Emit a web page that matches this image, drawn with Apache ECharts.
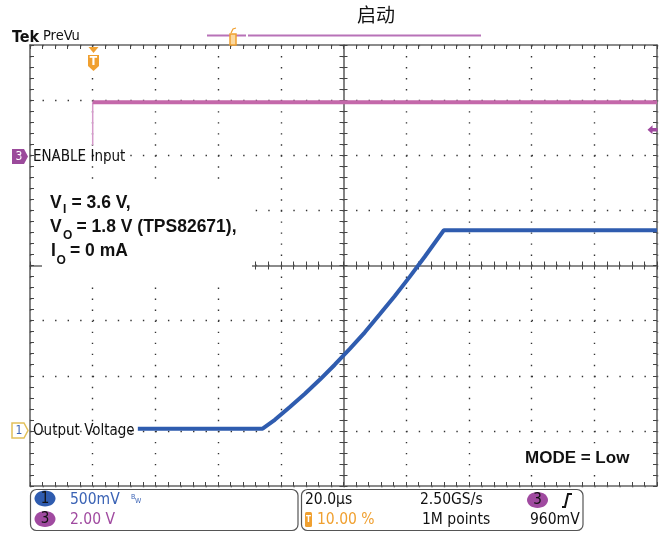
<!DOCTYPE html>
<html><head><meta charset="utf-8">
<script src="https://cdn.jsdelivr.net/npm/echarts@6/dist/echarts.min.js"></script>
<style>html,body{margin:0;padding:0;background:#fff}#c{width:663px;height:535px}</style>
</head><body><div id="c"></div>
<script>
// ---- scope settings ----
const timeMinUs = -20, timeMaxUs = 180, timePerDivUs = 20;   // 20.0 µs/div, trigger at 10 %
const ch1Min = -0.5, ch1Max = 3.5, ch1VoltsPerDiv = 0.5;     // CH1 500 mV/div
const ch3Min = -12, ch3Max = 4, ch3VoltsPerDiv = 2;          // CH3 2.00 V/div
const triggerLevelV = 0.96;

// ---- CH1: Output Voltage (µs, V) ----
const outputTimeUs   = [14.4, 54.2, 58.1, 62.8, 67.6, 72.4, 77.2, 82.0, 86.8, 91.5, 96.3, 101.1, 105.9, 112.0, 180];
const outputVoltageV = [0.02, 0.02, 0.10, 0.215, 0.335, 0.463, 0.60, 0.743, 0.894, 1.055, 1.221, 1.397, 1.579, 1.82, 1.82];

// ---- CH3: ENABLE Input (µs, V) ----
const enableTimeUs   = [0, 0, 180];
const enableVoltageV = [0.36, 1.92, 1.92];

const GRID = {left: 30, top: 45, width: 627, height: 441};
const dotV = GRID.height / 8 / 5;   // dot pitch on vertical graticule lines
const dotH = GRID.width / 10 / 5;   // dot pitch on horizontal graticule lines

const zip = (xs, ys) => xs.map((x, i) => [x, ys[i]]);

function gAxis(position, offset, extra) {
  const base = {
    gridIndex: 0, type: 'value', position: position, offset: offset,
    axisLine: {show: true, onZero: false, lineStyle: {color: '#666', width: 1.6}},
    axisTick: {show: true, inside: true, length: 4, lineStyle: {color: '#444', width: 1}},
    minorTick: {show: true, splitNumber: 5, length: 4, lineStyle: {color: '#444', width: 1}},
    axisLabel: {show: false}, splitLine: {show: false}, minorSplitLine: {show: false}
  };
  return Object.assign(base, extra);
}
const gx = (p, o, e) => gAxis(p, o, Object.assign({min: -5, max: 5, interval: 1}, e || {}));
const gy = (p, o, e) => gAxis(p, o, Object.assign({min: -4, max: 4, interval: 1}, e || {}));

const dots = (pitch) => ({show: true, lineStyle: {color: '#333', width: 1.4, type: [1.4, pitch - 1.4]}});
const outTick = {show: true, inside: false, length: 4, lineStyle: {color: '#444', width: 1}};

const F = '"DejaVu Sans Condensed","DejaVu Sans",sans-serif';
const A = '"Liberation Sans",Arial,sans-serif';
const txt = (x, y, text, font, fill, align, extra) => Object.assign({
  type: 'text', x: x, y: y, z: 60,
  style: {text: text, font: font, fill: fill || '#111', align: align || 'left', verticalAlign: 'middle'}
}, extra || {});

const chart = echarts.init(document.getElementById('c'));
chart.setOption({
  animation: false,
  backgroundColor: '#fff',
  grid: [
    Object.assign({}, GRID),
    Object.assign({}, GRID)
  ],
  xAxis: [
    gx('bottom', 0, {splitLine: dots(dotV)}),
    gx('top', 0),
    gx('bottom', -GRID.height / 2),
    gx('bottom', -GRID.height / 2, {axisLine: {show: false}, axisTick: outTick}),
    {gridIndex: 1, type: 'value', min: timeMinUs, max: timeMaxUs, interval: timePerDivUs, show: false}
  ],
  yAxis: [
    gy('left', 0, {splitLine: dots(dotH)}),
    gy('right', 0),
    gy('left', -GRID.width / 2),
    gy('left', -GRID.width / 2, {axisLine: {show: false}, axisTick: outTick}),
    {gridIndex: 1, type: 'value', min: ch1Min, max: ch1Max, interval: ch1VoltsPerDiv, show: false},
    {gridIndex: 1, type: 'value', min: ch3Min, max: ch3Max, interval: ch3VoltsPerDiv, show: false}
  ],
  series: [
    {
      name: 'ENABLE Input edge', type: 'line', xAxisIndex: 4, yAxisIndex: 5,
      data: zip(enableTimeUs, enableVoltageV).slice(0, 2), symbol: 'none',
      lineStyle: {color: '#d59acb', width: 1.5}, z: 3
    },
    {
      name: 'ENABLE Input', type: 'line', xAxisIndex: 4, yAxisIndex: 5,
      data: zip(enableTimeUs, enableVoltageV).slice(1), symbol: 'none',
      lineStyle: {color: '#c468aa', width: 4}, z: 3,
      markPoint: {
        symbol: 'path://M0,5 L6,0 L6,3 L12,3 L12,7 L6,7 L6,10 Z', symbolSize: [10, 9],
        symbolOffset: [-4.5, 1], itemStyle: {color: '#a04aa0'}, label: {show: false},
        data: [{coord: [timeMaxUs, triggerLevelV]}]
      }
    },
    {
      name: 'Output Voltage', type: 'line', xAxisIndex: 4, yAxisIndex: 4,
      data: zip(outputTimeUs, outputVoltageV), symbol: 'none',
      lineStyle: {color: '#2f5caf', width: 4}, z: 4
    }
  ],
  graphic: {elements: [
    // header
    txt(12, 38, 'Tek', 'bold 16px ' + F, '#111'),
    txt(43, 36, 'PreVu', '14.5px ' + F, '#111'),
    txt(376, 15, '启动', '19px "Noto Sans CJK SC"', '#111', 'center'),
    {type: 'line', z: 55, shape: {x1: 207, y1: 35.5, x2: 246, y2: 35.5}, style: {stroke: '#b872b8', lineWidth: 2}},
    {type: 'line', z: 55, shape: {x1: 248, y1: 35.5, x2: 481, y2: 35.5}, style: {stroke: '#b872b8', lineWidth: 2}},
    {type: 'rect', z: 56, shape: {x: 230, y: 34, width: 6, height: 11}, style: {fill: '#fbd9a0', stroke: '#f0a030', lineWidth: 1.5}},
    {type: 'polyline', z: 56, shape: {points: [[231, 33], [233, 29], [236, 28]]}, style: {stroke: '#f0a030', lineWidth: 1.2, fill: null}},
    // trigger position marker
    {type: 'polygon', z: 56, shape: {points: [[88.5, 47], [98.5, 47], [93.5, 53]]}, style: {fill: '#f0a030'}},
    {type: 'polygon', z: 56, shape: {points: [[88, 55], [99, 55], [99, 66], [93.5, 71], [88, 66]]}, style: {fill: '#f0a030'}},
    txt(93.5, 62, 'T', 'bold 12px ' + F, '#fff', 'center'),
    // channel 3 marker + label
    {type: 'polygon', z: 56, shape: {points: [[12, 149], [24, 149], [28, 156.5], [24, 164], [12, 164]]}, style: {fill: '#9b4a9b'}},
    txt(19, 157, '3', '12px ' + F, '#fff', 'center'),
    txt(33, 157, 'ENABLE Input', '15px ' + F, '#111'),
    // channel 1 marker + label
    {type: 'polygon', z: 56, shape: {points: [[12, 423], [24, 423], [28, 430.5], [24, 438], [12, 438]]}, style: {fill: '#fff', stroke: '#e2c05a', lineWidth: 1.5}},
    txt(19, 431, '1', '12px ' + F, '#3b63b5', 'center'),
    txt(33, 431, 'Output Voltage', '15px ' + F, '#111'),
    // annotation box
    {type: 'rect', z: 50, shape: {x: 42, y: 183, width: 210, height: 100}, style: {fill: '#fff'}},
    txt(50, 203, 'V', 'bold 17.5px ' + A),
    txt(63, 209.5, 'I', 'bold 12px ' + A),
    txt(71.5, 203, '= 3.6 V,', 'bold 17.5px ' + A),
    txt(50, 227, 'V', 'bold 17.5px ' + A),
    txt(63, 236, 'O', 'bold 12px ' + A),
    txt(76.5, 227, '= 1.8 V (TPS82671),', 'bold 17.5px ' + A),
    txt(51, 251.5, 'I', 'bold 17.5px ' + A),
    txt(56.5, 261, 'O', 'bold 12px ' + A),
    txt(70, 251.5, '= 0 mA', 'bold 17.5px ' + A),
    txt(523, 458.5, 'MODE = Low', 'bold 17px ' + A, '#111', 'left', {style: {text: 'MODE = Low', font: 'bold 17px ' + A, fill: '#111', verticalAlign: 'middle', backgroundColor: '#fff', padding: [1, 2]}}),
    // bottom panels
    {type: 'rect', z: 55, shape: {x: 30.5, y: 489.5, width: 267.5, height: 41, r: 6}, style: {fill: '#fff', stroke: '#555', lineWidth: 1.2}},
    {type: 'rect', z: 55, shape: {x: 301.5, y: 489.5, width: 281.5, height: 41, r: 6}, style: {fill: '#fff', stroke: '#555', lineWidth: 1.2}},
    {type: 'ellipse', z: 56, shape: {cx: 45, cy: 498.5, rx: 10.5, ry: 8}, style: {fill: '#2f5caf'}},
    txt(45, 499, '1', '15px ' + F, '#111', 'center'),
    {type: 'ellipse', z: 56, shape: {cx: 45, cy: 519, rx: 10.5, ry: 8}, style: {fill: '#a04aa0'}},
    txt(45, 519.5, '3', '15px ' + F, '#111', 'center'),
    txt(70, 500, '500mV', '15.5px ' + F, '#3b63b5'),
    txt(131, 497, 'B', '7px ' + F, '#3b63b5'),
    txt(135, 501, 'W', '7px ' + F, '#3b63b5'),
    txt(70, 520, '2.00 V', '15.5px ' + F, '#a04aa0'),
    txt(305, 500, '20.0µs', '15.5px ' + F, '#111'),
    {type: 'rect', z: 56, shape: {x: 305, y: 512, width: 7, height: 15, r: 1.5}, style: {fill: '#f0a030'}},
    txt(308.5, 519.5, 'T', 'bold 8px ' + F, '#fff', 'center'),
    txt(317, 520, '10.00 %', '15.5px ' + F, '#f0a030'),
    txt(420, 500, '2.50GS/s', '15.5px ' + F, '#111'),
    txt(422, 520, '1M points', '15.5px ' + F, '#111'),
    {type: 'ellipse', z: 56, shape: {cx: 537.5, cy: 500, rx: 10.5, ry: 8}, style: {fill: '#a04aa0'}},
    txt(537.5, 500.5, '3', '15px ' + F, '#111', 'center'),
    {type: 'polyline', z: 56, shape: {points: [[562, 507], [565, 507], [568, 494], [572, 494]]}, style: {stroke: '#111', lineWidth: 2, fill: null}},
    txt(530, 520, '960mV', '15.5px ' + F, '#111')
  ]}
});
</script></body></html>
